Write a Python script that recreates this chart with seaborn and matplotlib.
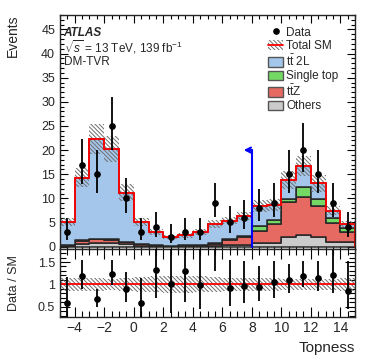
import numpy as np
import pandas as pd
import seaborn as sns
import matplotlib.pyplot as plt
from matplotlib.lines import Line2D
from matplotlib.patches import Patch
from matplotlib.ticker import MultipleLocator

# --- Data ---
bin_edges = np.arange(-5, 16, 1)  # Topness bins, width 1
bin_centers = 0.5 * (bin_edges[:-1] + bin_edges[1:])

data_counts = [3, 17, 15, 25, 10, 3, 4, 2, 3, 3, 9, 5, 6, 8, 9, 15, 20, 15, 9, 4]
data_err_lo = [1.63, 4.08, 3.82, 4.97, 3.11, 1.63, 1.91, 1.29, 1.63, 1.63,
               2.94, 2.16, 2.38, 2.77, 2.94, 3.82, 4.44, 3.82, 2.94, 1.91]
data_err_hi = [2.92, 5.20, 4.95, 6.06, 4.26, 2.92, 3.16, 2.64, 2.92, 2.92,
               4.11, 3.38, 3.58, 3.95, 4.11, 4.95, 5.55, 4.95, 4.11, 3.16]

tt2l = [4.8, 13.0, 20.6, 18.7, 10.2, 4.6, 2.8, 1.8, 2.0, 2.8,
        3.9, 3.9, 4.1, 4.2, 3.1, 4.0, 4.4, 3.3, 1.6, 0.8]
single_top = [0.05, 0.1, 0.1, 0.1, 0.1, 0.05, 0.05, 0.05, 0.1, 0.1,
              0.3, 0.1, 0.2, 0.95, 0.8, 0.5, 2.1, 1.4, 1.05, 0.8]
ttz = [0.1, 0.7, 0.8, 0.7, 0.4, 0.3, 0.1, 0.05, 0.1, 0.1,
       0.4, 1.1, 1.6, 2.6, 3.9, 7.3, 7.8, 6.4, 3.9, 2.2]
others = [0.15, 0.5, 0.7, 0.7, 0.5, 0.2, 0.1, 0.1, 0.1, 0.05,
          0.1, 0.3, 0.4, 0.7, 0.8, 2.0, 2.4, 2.0, 0.9, 0.9]
sm_rel_unc = [0.15, 0.14, 0.14, 0.13, 0.15, 0.17, 0.18, 0.19, 0.19, 0.18,
              0.17, 0.15, 0.14, 0.14, 0.14, 0.13, 0.13, 0.13, 0.13, 0.14]

process_names = [r'$\mathrm{t\bar{t}}$ 2L', 'Single top', r'$\mathrm{t\bar{t}Z}$', 'Others']
process_colors = ['#a4c6ea', '#74d964', '#e66a62', '#cbcbcb']
cut_value = 8
arrow_height = 20

# --- Style ---
sns.set_style('ticks')
plt.rcParams['font.family'] = ['Liberation Sans', 'DejaVu Sans']
plt.rcParams['mathtext.fontset'] = 'custom'
plt.rcParams['mathtext.rm'] = 'Liberation Sans'
plt.rcParams['mathtext.it'] = 'Liberation Sans:italic'
plt.rcParams['hatch.linewidth'] = 0.7
plt.rcParams['axes.linewidth'] = 1.0

long_df = pd.DataFrame({
    'topness': np.tile(bin_centers, 4),
    'events': np.concatenate([tt2l, single_top, ttz, others]),
    'process': np.repeat(process_names, len(bin_centers)),
})

total_sm = np.array(tt2l) + np.array(single_top) + np.array(ttz) + np.array(others)
unc = total_sm * np.array(sm_rel_unc)
data = np.array(data_counts)
hatch = '\\' * 8
hatch_color = '#6e6e6e'

fig = plt.figure(figsize=(3.74, 3.63), dpi=100)
ax = fig.add_axes([0.1604, 0.3127, 0.789, 0.646])
rax = fig.add_axes([0.1604, 0.1267, 0.789, 0.186])

# stacked backgrounds (first hue level ends up on top)
sns.histplot(data=long_df, x='topness', weights='events', hue='process',
             hue_order=process_names, palette=process_colors, bins=bin_edges.tolist(),
             multiple='stack', element='step', alpha=1, edgecolor='#262626',
             linewidth=1.1, legend=False, ax=ax)

ax.stairs(total_sm + unc, bin_edges, baseline=total_sm - unc, fill=True,
          facecolor='none', edgecolor=hatch_color, linewidth=0, hatch=hatch)
ax.stairs(total_sm, bin_edges, color='#ff0000', linewidth=1.3)
ax.errorbar(bin_centers, data, yerr=[data_err_lo, data_err_hi], fmt='o',
            color='black', markersize=3.8, elinewidth=1.3, capsize=0, zorder=5)

ax.plot([cut_value, cut_value], [0, arrow_height], color='#0000ff', lw=1.5, zorder=6)
ax.annotate('', xy=(cut_value - 0.55, arrow_height), xytext=(cut_value, arrow_height),
            arrowprops=dict(arrowstyle='->', color='#0000ff', lw=1.5,
                            shrinkA=0, shrinkB=0, mutation_scale=9), zorder=6)

ax.set_xlim(-5, 15)
ax.set_ylim(-0.6, 48)
ax.set_xlabel('')
ax.set_ylabel('Events', loc='top', fontsize=10)
ax.yaxis.set_label_coords(-0.135, 1.0)
ax.xaxis.set_major_locator(MultipleLocator(2))
ax.xaxis.set_minor_locator(MultipleLocator(0.5))
ax.yaxis.set_major_locator(MultipleLocator(5))
ax.yaxis.set_minor_locator(MultipleLocator(1))
ax.tick_params(which='both', direction='in', top=True, right=True, labelbottom=False,
               labelsize=9, width=0.8, color='black')
ax.tick_params(which='major', length=6)
ax.tick_params(which='minor', length=3)

ax.text(0.012, 0.91, 'ATLAS', transform=ax.transAxes, fontsize=8.5,
        fontweight='bold', fontstyle='italic')
ax.text(0.012, 0.865, r'$\sqrt{s}$ = 13 TeV, 139 fb$^{-1}$', transform=ax.transAxes,
        fontsize=8.5, va='center')
ax.text(0.012, 0.80, 'DM-TVR', transform=ax.transAxes, fontsize=8.5, va='center')

handles = [
    Line2D([], [], marker='o', color='black', linestyle='none', markersize=3.8),
    (Patch(facecolor='none', edgecolor=hatch_color, hatch=hatch, linewidth=0),
     Line2D([], [], color='#ff0000', lw=1.3)),
]
for c in process_colors:
    handles.append(Patch(facecolor=c, edgecolor='#555555', linewidth=1.0))
labels = ['Data', 'Total SM'] + process_names
ax.legend(handles, labels, loc='upper left', bbox_to_anchor=(0.69, 0.97),
          frameon=False, fontsize=8.5, handlelength=1.25, handleheight=0.85,
          handletextpad=0.25, labelspacing=0.12, borderaxespad=0)

# ratio panel
ratio = data / total_sm
rax.stairs(1 + np.array(sm_rel_unc), bin_edges, baseline=1 - np.array(sm_rel_unc),
           fill=True, facecolor='none', edgecolor=hatch_color, linewidth=0, hatch=hatch)
rax.axhline(1, color='#ff0000', lw=1.3)
rax.errorbar(bin_centers, ratio, yerr=[np.array(data_err_lo) / total_sm,
                                       np.array(data_err_hi) / total_sm],
             fmt='o', color='black', markersize=3.8, elinewidth=1.3, capsize=0, zorder=5)
rax.set_xlim(-5, 15)
rax.set_ylim(0.27, 1.78)
rax.xaxis.set_major_locator(MultipleLocator(2))
rax.xaxis.set_minor_locator(MultipleLocator(0.5))
rax.yaxis.set_major_locator(MultipleLocator(0.5))
rax.yaxis.set_minor_locator(MultipleLocator(0.1))
rax.yaxis.set_major_formatter(plt.FuncFormatter(lambda v, p: f'{v:g}'))
rax.tick_params(which='both', direction='in', top=True, right=True, width=0.8, color='black')
rax.tick_params(axis='x', labelsize=10, pad=3)
rax.tick_params(axis='y', labelsize=9)
rax.tick_params(which='major', length=7)
rax.tick_params(which='minor', length=4)
rax.set_ylabel('Data / SM', fontsize=9)
rax.yaxis.set_label_coords(-0.135, 0.5)
rax.set_xlabel('Topness', loc='right', fontsize=11)
rax.xaxis.set_label_coords(1.0, -0.36)

fig.savefig('out.png', dpi=100)
